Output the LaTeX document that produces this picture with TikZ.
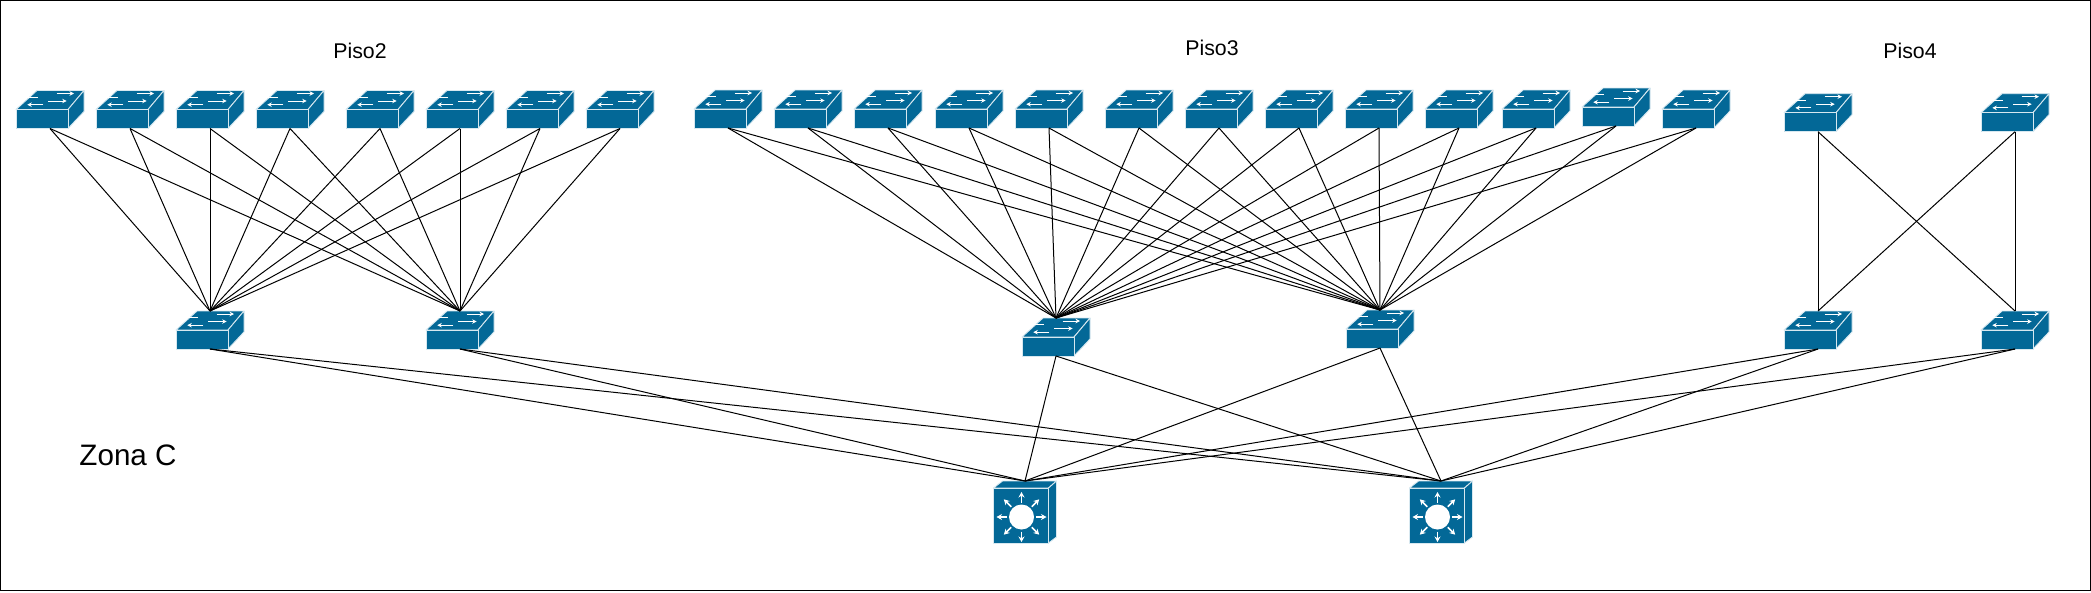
\documentclass[tikz,border=0pt]{standalone}
\usepackage{fontspec}
\setmainfont{Liberation Sans}
\usetikzlibrary{arrows.meta,calc}
\definecolor{swblue}{HTML}{036897}
\definecolor{swedge}{HTML}{D7E8F0}
\tikzset{x=1pt,y=-1pt,
  swbox/.style={minimum width=68pt,minimum height=38pt,inner sep=0,outer sep=0},
  corebox/.style={minimum width=63pt,minimum height=62pt,inner sep=0,outer sep=0},
  face/.style={fill=swblue,draw=swedge,line width=0.9pt,line join=round},
  glyph/.style={draw=white,line width=0.9pt,-{Stealth[length=4.5pt,width=4.5pt]}},
  rad/.style={draw=white,line width=1.5pt,-{Stealth[length=5.5pt,width=6pt]}},
  link/.style={draw=black,line width=1pt},
  lab/.style={font=\fontsize{21.3pt}{25pt}\selectfont,text=black,inner sep=0},
  zone/.style={font=\fontsize{29.6pt}{34pt}\selectfont,text=black,inner sep=0}}
\newcommand\swnode[3]{\node[swbox] (#1) at (#2,#3-19) {};}
\newcommand\swicon[1]{%
  \begin{scope}[shift={(#1.north west)}]
    \path[face] (0,19)--(21,0)--(68,0)--(52,19)--cycle;
    \path[face] (52,19)--(68,0)--(68,21)--(52,38)--cycle;
    \path[face] (0,19) rectangle (52,38);
    \draw[glyph] (21.7,6.8)--(6.5,6.8);
    \draw[glyph] (40.7,3)--(58,3);
    \draw[glyph] (27.3,14.2)--(11.3,14.2);
    \draw[glyph] (32.3,10.5)--(50.7,10.5);
  \end{scope}}
\newcommand\coreicon[1]{%
  \begin{scope}[shift={(#1.north west)}]
    \path[face] (0,7)--(9,0)--(63,0)--(55,7)--cycle;
    \path[face] (55,7)--(63,0)--(63,56)--(55,62)--cycle;
    \path[face] (0,7) rectangle (55,62);
    \fill[white] (28,36) circle (12.5);
    \foreach \a in {0,45,...,315}{
      \draw[rad] ($(28,36)+(\a:14.5)$)--($(28,36)+(\a:25)$);}
  \end{scope}}
\begin{document}
\begin{tikzpicture}
\useasboundingbox (0,0) rectangle (2091,592);
\draw[black,line width=1.3pt] (0.7,0.7) rectangle (2090.3,590.5);
% Piso2
\foreach \n/\x in {a1/50,a2/130,a3/210,a4/290,a5/380,a6/460,a7/540,a8/620}{\swnode{\n}{\x}{128.5}}
\swnode{A1}{210}{349}\swnode{A2}{460}{349}
% Piso3
\foreach \n/\x/\y in {b1/728/128,b2/808/128,b3/888/128,b4/969/128,b5/1049/128,b6/1139/128,b7/1219/128,b8/1299/128,b9/1379/128,b10/1459/128,b11/1536/128,b12/1616/126,b13/1696/128}{\swnode{\n}{\x}{\y}}
\swnode{B1}{1056}{356}\swnode{B2}{1380}{348}
% Piso4
\swnode{c1}{1818}{131.7}\swnode{c2}{2015}{131.7}
\swnode{C1}{1818}{349}\swnode{C2}{2015}{349}
% core
\node[corebox] (K1) at (1025,512) {};
\node[corebox] (K2) at (1441,512) {};
% icons
\foreach \n in {a1,a2,a3,a4,a5,a6,a7,a8,A1,A2,b1,b2,b3,b4,b5,b6,b7,b8,b9,b10,b11,b12,b13,B1,B2,c1,c2,C1,C2}{\swicon{\n}}
\coreicon{K1}\coreicon{K2}
% links
\foreach \n in {a1,a2,a3,a4,a5,a6,a7,a8}{\draw[link] (\n.south)--(A1.north);\draw[link] (\n.south)--(A2.north);}
\foreach \n in {b1,b2,b3,b4,b5,b6,b7,b8,b9,b10,b11,b12,b13}{\draw[link] (\n.south)--(B1.north);\draw[link] (\n.south)--(B2.north);}
\foreach \n in {c1,c2}{\draw[link] (\n.south)--(C1.north);\draw[link] (\n.south)--(C2.north);}
\foreach \n in {A1,A2,B1,B2,C1,C2}{\draw[link] (\n.south)--(K1.north);\draw[link] (\n.south)--(K2.north);}
% labels
\node[lab] (t2) at (360,51) {Piso2};
\node[lab] (t3) at (1212,48) {Piso3};
\node[lab] (t4) at (1910,51) {Piso4};
\node[zone] (z) at (128,455) {Zona C};
\end{tikzpicture}
\end{document}
